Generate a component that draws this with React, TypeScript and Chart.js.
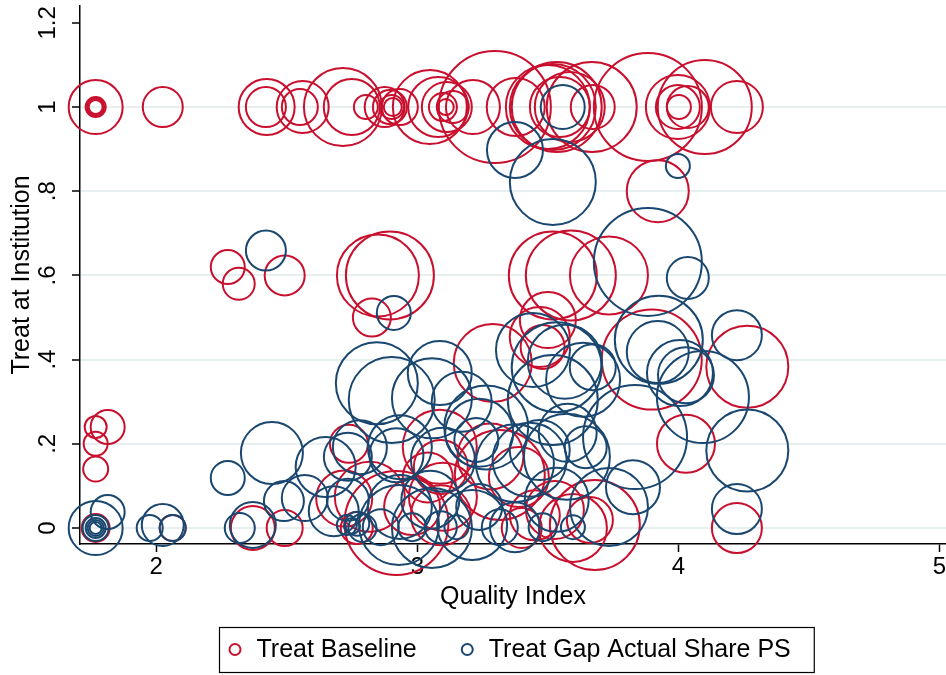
import React, { useEffect, useRef } from 'react';
import { Chart, registerables } from 'chart.js';

Chart.register(...registerables);

// ---------------- data ----------------
const seriesNames = ['Treat Baseline', 'Treat Gap Actual Share PS'];
const xTitle = 'Quality Index';
const yTitle = 'Treat at Institution';

const xTicks = [2, 3, 4, 5];
const xTickLabels = ['2', '3', '4', '5'];
const yTicks = [0, 0.2, 0.4, 0.6, 0.8, 1, 1.2];
const yTickLabels = ['0', '.2', '.4', '.6', '.8', '1', '1.2'];

// Treat Baseline (x = quality index, y = treat at institution, r = bubble size)
const redX = [
  1.768, 1.768, 1.768, 1.768, 2.025, 2.423, 2.420, 2.561, 2.550, 2.715,
  2.749, 2.803, 2.875, 2.895, 2.902, 2.906, 2.933, 3.048, 3.080, 3.098,
  3.109, 3.113, 3.136, 3.213, 3.297, 3.377, 3.500, 3.519, 3.534, 3.584,
  3.546, 3.672, 3.668, 3.883, 3.998, 3.998, 4.002, 4.036, 4.101, 4.224,
  3.921, 2.274, 2.316, 2.492, 2.849, 2.895, 2.826, 3.519, 3.588, 3.734,
  3.289, 3.469, 3.500, 3.480, 3.898, 4.264, 4.029, 4.224, 1.768, 1.814,
  1.768, 1.768, 1.768, 2.063, 2.370, 2.492, 2.738, 2.818, 3.098, 3.086,
  3.316, 3.389, 3.280, 3.596, 3.661, 3.527, 2.768, 2.920, 3.680, 3.090,
  2.980, 2.720, 3.450, 3.400, 3.040, 3.090,
];
const redY = [
  1, 1, 1, 1, 1, 1, 1, 1, 1, 1,
  1, 1, 1, 1, 1, 1, 1, 1, 1, 1,
  1, 1, 1, 1, 1, 1, 1, 1, 1, 1,
  1, 1, 1, 1, 1, 1, 1, 1, 1, 1,
  0.80, 0.62, 0.58, 0.60, 0.60, 0.60, 0.50, 0.60, 0.60, 0.60,
  0.392, 0.454, 0.494, 0.43, 0.40, 0.383, 0.20, 0, 0.24, 0.24,
  0.20, 0.14, 0, 0, 0, 0, 0.20, 0.074, 0.074, 0.193,
  0.126, 0.121, 0.17, 0, 0.019, 0.043, 0, 0.012, 0.007, 0.03,
  0.05, 0.07, 0.03, 0, 0.12, 0.145,
];
const redR = [
  27, 10, 8.5, 7, 20, 28, 20, 26, 18, 39,
  28, 12, 20, 17, 12, 9, 18, 37, 30, 14,
  8, 25, 16, 27, 56, 29, 42, 43, 45, 35,
  30, 22, 45, 54, 32, 22, 12, 21, 47, 26,
  31, 17, 16, 20, 41, 44, 19, 44, 45, 39,
  39, 30, 28, 22, 50, 41, 29, 25, 11, 17,
  12, 12.5, 14, 13, 22, 18, 19, 35, 34, 37,
  45, 30, 33, 34, 23, 29, 16, 52, 45, 30,
  28, 28, 25, 20, 25, 27,
];

// Treat Gap Actual Share PS
const blueX = [
  3.557, 3.374, 3.519, 3.998, 2.420, 2.910, 3.883, 4.036, 4.224, 3.925,
  3.921, 4.006, 4.029, 4.094, 4.264, 4.224, 3.834, 2.845, 2.902, 3.086,
  3.056, 3.443, 3.534, 3.519, 3.635, 3.565, 3.672, 1.768, 1.768, 1.768,
  1.768, 1.768, 1.814, 1.975, 2.025, 2.063, 2.274, 2.320, 2.370, 2.443,
  2.489, 2.569, 2.649, 2.734, 2.730, 2.750, 2.770, 2.790, 2.860, 2.933,
  3.050, 2.980, 3.090, 3.150, 3.098, 3.237, 3.264, 3.374, 3.430, 3.469,
  3.576, 3.645, 3.534, 3.734, 3.826, 3.316, 3.374, 3.480, 3.596, 3.237,
  2.734, 2.780, 2.933, 2.920, 3.226, 3.573, 3.056, 3.210, 2.930, 2.680,
  3.170,
];
const blueY = [
  1, 0.898, 0.822, 0.86, 0.659, 0.511, 0.632, 0.594, 0.458, 0.447,
  0.418, 0.368, 0.363, 0.311, 0.184, 0.045, 0.216, 0.344, 0.304, 0.368,
  0.308, 0.423, 0.382, 0.304, 0.352, 0.395, 0.382, 0, 0, 0,
  0, 0, 0.038, 0, 0.007, 0, 0.119, 0, 0.007, 0.178,
  0.064, 0.071, 0.145, 0.067, 0.007, 0.005, 0.01, 0, 0.002, 0.05,
  0.067, 0.002, 0.002, 0.002, 0.162, 0.226, 0.239, 0.154, 0.162, 0.185,
  0.226, 0.192, 0.067, 0.05, 0.097, 0.002, 0.002, 0.002, 0.002, 0.05,
  0.169, 0.192, 0.192, 0.173, 0.209, 0.169, 0, 0.007, 0.007, 0.04,
  0.30,
];
const blueR = [
  22, 28, 43, 12, 20, 17, 54, 21, 25, 44,
  31, 33, 28, 46, 41, 25, 52, 41, 43, 32,
  40, 37, 45, 45, 37, 37, 23, 27, 13, 10,
  8, 6, 17, 13, 21, 13, 17, 15, 23, 31,
  20, 23, 30, 21, 10, 8, 12, 14, 18, 32,
  29, 14, 16, 12, 32, 34, 42, 39, 37, 30,
  29, 21, 32, 39, 27, 18, 25, 14, 12, 23,
  24, 27, 32, 27, 22, 43, 40, 35, 40, 25,
  30,
];

// ---------------- styling ----------------
const RED = '#c8102e';
const BLUE = '#1a476f';
const FONT = '"Liberation Sans", Arial, Helvetica, sans-serif';

function toPoints(xs: number[], ys: number[], rs: number[]) {
  return xs.map((x, i) => ({ x, y: ys[i], r: rs[i] }));
}

function zeroPad(s: any) {
  s.paddingTop = 0;
  s.paddingBottom = 0;
  s.paddingLeft = 0;
  s.paddingRight = 0;
}

const boxLegend = {
  id: 'boxLegend',
  afterDraw(chart: any) {
    const ctx = chart.ctx as CanvasRenderingContext2D;
    ctx.save();
    ctx.font = `25px ${FONT}`;
    const w1 = ctx.measureText(seriesNames[0]).width;
    const w2 = ctx.measureText(seriesNames[1]).width;
    const left = 219;
    const top = 627;
    const h = 45;
    const cy = top + h / 2;
    const m1 = left + 16;
    const t1 = m1 + 21.5;
    const m2 = t1 + w1 + 50.5;
    const t2 = m2 + 21.5;
    const right = t2 + w2 + 23;
    ctx.strokeStyle = '#000';
    ctx.lineWidth = 1.2;
    ctx.strokeRect(left + 0.5, top + 0.5, right - left, h);
    ctx.lineWidth = 2;
    ctx.strokeStyle = RED;
    ctx.beginPath();
    ctx.arc(m1, cy, 5.5, 0, Math.PI * 2);
    ctx.stroke();
    ctx.strokeStyle = BLUE;
    ctx.beginPath();
    ctx.arc(m2, cy, 5.5, 0, Math.PI * 2);
    ctx.stroke();
    ctx.fillStyle = '#000';
    ctx.textBaseline = 'middle';
    ctx.textAlign = 'left';
    ctx.fillText(seriesNames[0], t1, cy + 1);
    ctx.fillText(seriesNames[1], t2, cy + 1);
    ctx.restore();
  },
};

export default function App() {
  const canvasRef = useRef<HTMLCanvasElement | null>(null);

  useEffect(() => {
    const canvas = canvasRef.current;
    if (!canvas) return;
    Chart.defaults.font.family = FONT;
    Chart.defaults.color = '#000';
    const chart = new Chart(canvas, {
      type: 'bubble',
      data: {
        datasets: [
          {
            label: seriesNames[0],
            data: toPoints(redX, redY, redR),
            borderColor: RED,
            backgroundColor: 'rgba(0,0,0,0)',
            borderWidth: 2,
            clip: false,
            order: 2,
          } as any,
          {
            label: seriesNames[1],
            data: toPoints(blueX, blueY, blueR),
            borderColor: BLUE,
            backgroundColor: 'rgba(0,0,0,0)',
            borderWidth: 2,
            clip: false,
            order: 1,
          } as any,
        ],
      },
      options: {
        responsive: false,
        maintainAspectRatio: false,
        animation: false,
        devicePixelRatio: 1,
        events: [],
        layout: { autoPadding: false, padding: { top: 6, left: 0, right: 0, bottom: 63 } },
        plugins: {
          legend: { display: false },
          tooltip: { enabled: false },
        },
        scales: {
          x: {
            type: 'linear',
            min: 1.708,
            max: 5.025,
            afterBuildTicks: (s: any) => {
              s.ticks = xTicks.map((v) => ({ value: v }));
            },
            afterFit: (s: any) => {
              s.height = 68;
              zeroPad(s);
            },
            grid: {
              drawOnChartArea: false,
              drawTicks: true,
              tickLength: 8,
              tickColor: '#000',
              tickWidth: 1.5,
            },
            border: { display: true, color: '#000', width: 1.5 },
            ticks: {
              font: { size: 24, family: FONT },
              color: '#000',
              padding: 1,
              maxRotation: 0,
              autoSkip: false,
              callback: (_v: any, i: number) => xTickLabels[i],
            },
            title: {
              display: true,
              text: xTitle,
              font: { size: 25, family: FONT },
              color: '#000',
              padding: { top: 0, bottom: 0 },
            },
          },
          y: {
            type: 'linear',
            min: -0.038,
            max: 1.24,
            afterBuildTicks: (s: any) => {
              s.ticks = yTicks.map((v) => ({ value: v }));
            },
            afterFit: (s: any) => {
              s.width = 80;
              zeroPad(s);
            },
            grid: {
              color: (c: any) => (c.tick && c.tick.value > 1.1 ? 'rgba(0,0,0,0)' : '#e8eff1'),
              lineWidth: 2,
              drawTicks: true,
              tickLength: 8,
              tickColor: '#000',
              tickWidth: 1.5,
            },
            border: { display: true, color: '#000', width: 1.5 },
            ticks: {
              font: { size: 24, family: FONT },
              color: '#000',
              minRotation: 90,
              maxRotation: 90,
              crossAlign: 'center',
              padding: 7,
              autoSkip: false,
              callback: (_v: any, i: number) => yTickLabels[i],
            },
            title: {
              display: true,
              text: yTitle,
              font: { size: 25, family: FONT },
              color: '#000',
              padding: { top: 7, bottom: 0 },
            },
          },
        },
      } as any,
      plugins: [boxLegend],
    });
    return () => chart.destroy();
  }, []);

  return (
    <div style={{ position: 'fixed', left: 0, top: 0, width: 946, height: 675, background: '#fff' }}>
      <canvas ref={canvasRef} width={946} height={675} />
    </div>
  );
}
